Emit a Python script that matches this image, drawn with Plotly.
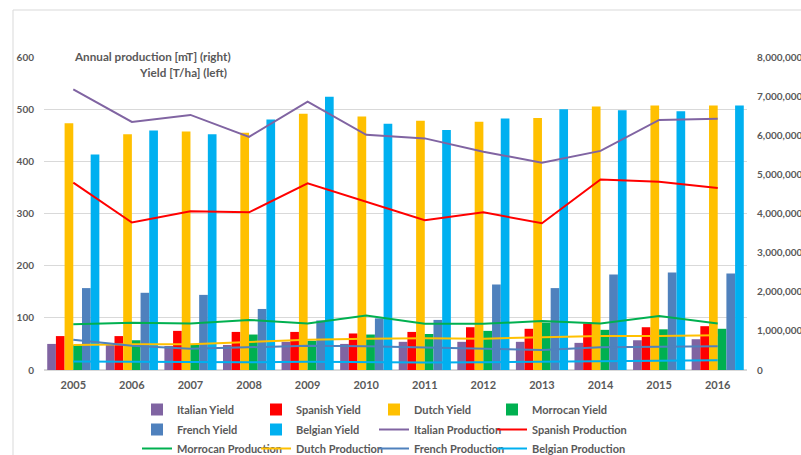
import plotly.graph_objects as go

years = ["2005", "2006", "2007", "2008", "2009", "2010",
         "2011", "2012", "2013", "2014", "2015", "2016"]

# Yield [T/ha] (left axis, bars)
italian_yield = [50, 48, 46, 48, 54, 50, 54, 54, 54, 52, 57, 59]
spanish_yield = [65, 65, 75, 73, 73, 70, 73, 82, 79, 89, 82, 84]
dutch_yield = [473, 452, 457, 455, 491, 486, 478, 476, 483, 505, 507, 507]
morrocan_yield = [48, 57, 48, 68, 56, 68, 69, 75, 91, 77, 78, 79]
french_yield = [157, 148, 144, 117, 95, 99, 96, 164, 157, 183, 187, 185]
belgian_yield = [413, 459, 452, 480, 524, 472, 460, 482, 500, 498, 496, 507]

# Annual production [mT] (right axis, lines)
italian_prod = [7170000, 6340000, 6520000, 5960000, 6860000, 6010000,
                5920000, 5580000, 5300000, 5600000, 6390000, 6420000]
spanish_prod = [4790000, 3770000, 4060000, 4030000, 4770000, 4290000,
                3830000, 4030000, 3750000, 4870000, 4810000, 4650000]
morrocan_prod = [1170000, 1210000, 1190000, 1280000, 1190000, 1390000,
                 1180000, 1180000, 1250000, 1190000, 1380000, 1190000]
dutch_prod = [640000, 660000, 660000, 710000, 770000, 800000,
              810000, 800000, 840000, 870000, 870000, 890000]
french_prod = [770000, 620000, 540000, 580000, 620000, 610000,
               580000, 550000, 510000, 580000, 600000, 610000]
belgian_prod = [220000, 210000, 200000, 200000, 210000, 200000,
                190000, 200000, 210000, 220000, 230000, 250000]

C_IT = "#8064A2"
C_ES = "#FF0000"
C_NL = "#FFC000"
C_MA = "#00B050"
C_FR = "#4F81BD"
C_BE = "#00B0F0"
TXT = "#595959"
FONT = "Lato"

fig = go.Figure()

bars = [
    ("Italian Yield", italian_yield, C_IT),
    ("Spanish Yield", spanish_yield, C_ES),
    ("Dutch Yield", dutch_yield, C_NL),
    ("Morrocan Yield", morrocan_yield, C_MA),
    ("French Yield", french_yield, C_FR),
    ("Belgian Yield", belgian_yield, C_BE),
]
lines = [
    ("Italian Production", italian_prod, C_IT),
    ("Spanish Production", spanish_prod, C_ES),
    ("Morrocan Production", morrocan_prod, C_MA),
    ("Dutch Production", dutch_prod, C_NL),
    ("French Production", french_prod, C_FR),
    ("Belgian Production", belgian_prod, C_BE),
]


def legend_id(k):
    return "legend" if k == 0 else f"legend{k + 1}"


k = 0
for name, vals, col in bars:
    fig.add_trace(go.Bar(x=years, y=vals, name=name, marker_color=col,
                         marker_line_width=0, yaxis="y",
                         legend=legend_id(k)))
    k += 1
for name, vals, col in lines:
    fig.add_trace(go.Scatter(x=years, y=vals, name=name, mode="lines",
                             line=dict(color=col, width=2), yaxis="y2",
                             legend=legend_id(k)))
    k += 1

# plot area in pixels: x 44..747, y 57..370
L, R, T, B = 44, 54, 57, 85
W, H = 801, 455
pw, ph = W - L - R, H - T - B


def px_x(x):
    return (x - L) / pw


def px_y(y):
    return (H - B - y) / ph


# legend grid: 4 columns x 3 rows, one entry per legend box
COL_X = [137, 256, 374, 492]
ROW_TOP = [395, 415, 434]

legends = {}
for k in range(12):
    legends[legend_id(k)] = dict(
        orientation="h", x=px_x(COL_X[k % 4]), y=px_y(ROW_TOP[k // 4]),
        xanchor="left", yanchor="top", itemwidth=30,
        font=dict(family=FONT, size=11, color=TXT, weight="bold"),
        bgcolor="rgba(0,0,0,0)")

tick_font = dict(family=FONT, size=10, color=TXT, weight="bold")
note_font = dict(family=FONT, size=11.7, color=TXT, weight="bold")

fig.update_layout(
    width=W, height=H,
    margin=dict(l=L, r=R, t=T, b=B, autoexpand=False),
    paper_bgcolor="white", plot_bgcolor="white",
    barmode="group", bargap=0.11, bargroupgap=0,
    font=dict(family=FONT, size=10, color=TXT),
    showlegend=True,
    xaxis=dict(type="category", showgrid=False, showline=False,
               ticks="", ticklabelstandoff=7,
               tickfont=dict(family=FONT, size=11, color=TXT, weight="bold")),
    yaxis=dict(range=[0, 600], dtick=100, showgrid=True,
               gridcolor="#D9D9D9", gridwidth=1, zeroline=True,
               zerolinecolor="#D9D9D9", showline=False, ticks="",
               ticklabelstandoff=9, tickfont=tick_font),
    yaxis2=dict(range=[0, 8000000], dtick=1000000, overlaying="y",
                side="right", showgrid=False, zeroline=False,
                tickformat=",d", ticks="", ticklabelstandoff=9,
                tickfont=tick_font),
    annotations=[
        dict(text="Annual production [mT] (right)", xref="paper",
             yref="paper", x=px_x(233), y=px_y(56), xanchor="right",
             yanchor="middle", showarrow=False, font=note_font),
        dict(text="Yield [T/ha] (left)", xref="paper", yref="paper",
             x=px_x(229), y=px_y(72), xanchor="right", yanchor="middle",
             showarrow=False, font=note_font),
    ],
    shapes=[
        dict(type="line", xref="paper", yref="paper",
             x0=px_x(13), x1=px_x(805), y0=px_y(10), y1=px_y(10),
             line=dict(color="#D9D9D9", width=1)),
        dict(type="line", xref="paper", yref="paper",
             x0=px_x(13), x1=px_x(13), y0=px_y(10), y1=px_y(460),
             line=dict(color="#D9D9D9", width=1)),
    ],
)
fig.update_layout(**legends)

fig.write_html("out.html")
